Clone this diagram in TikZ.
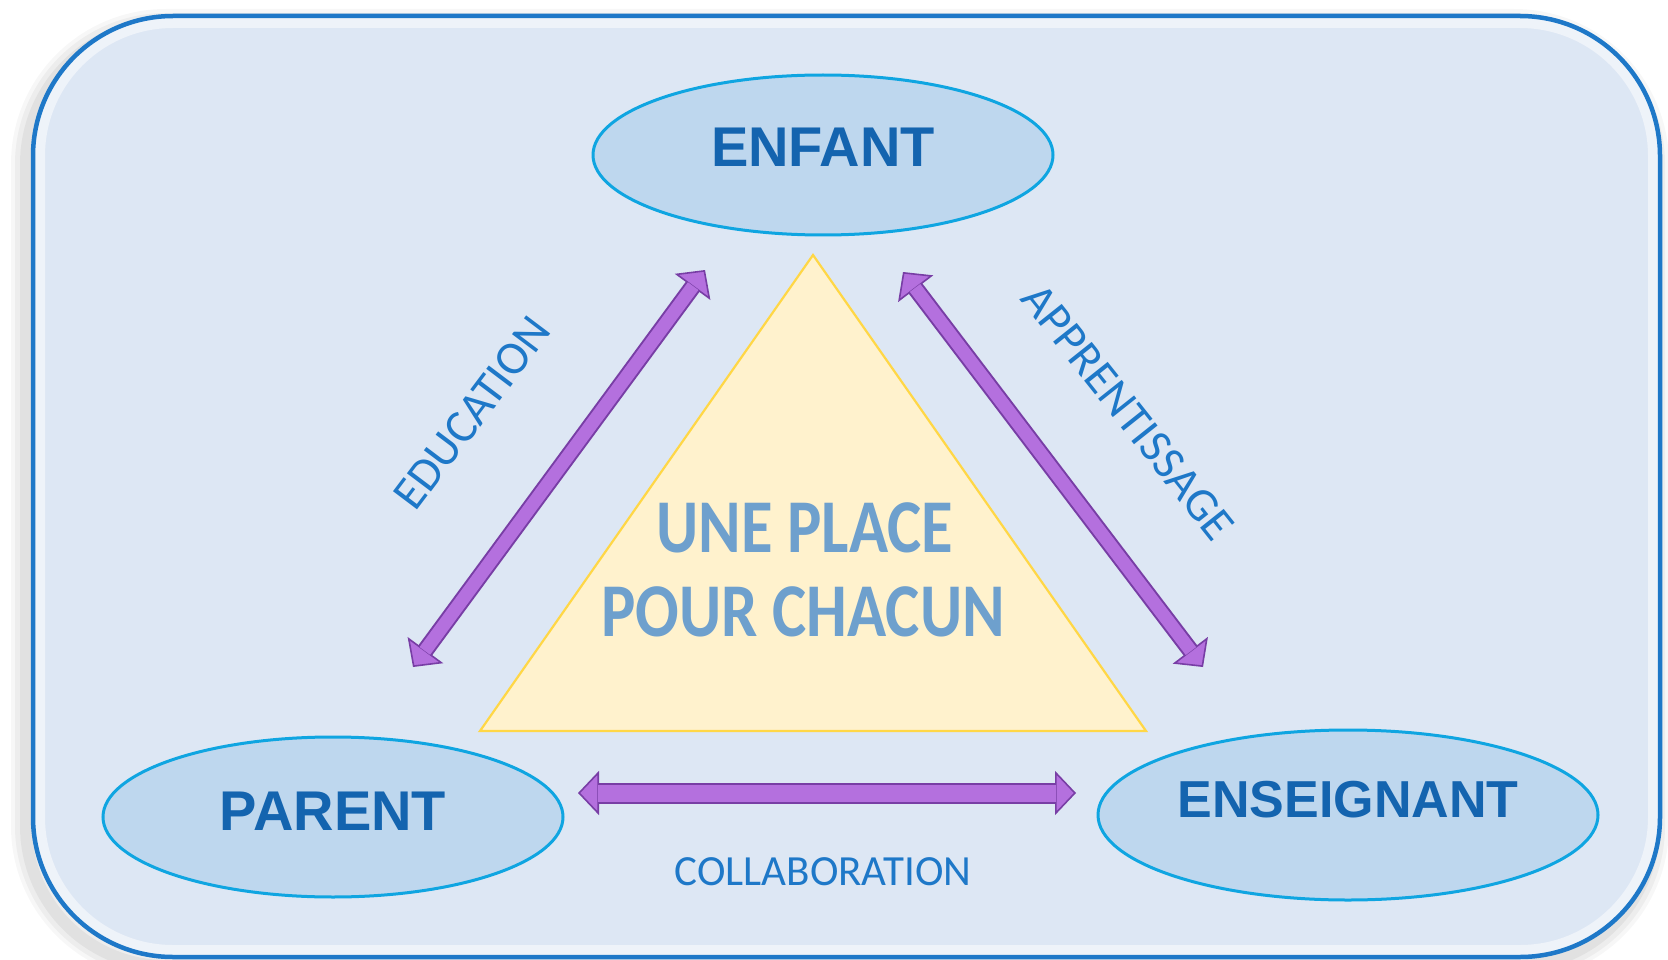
\documentclass[tikz,border=0pt]{standalone}
\usepackage{fontspec}
\setmainfont{Carlito}
\newfontfamily\headfont{Liberation Sans}
\newfontfamily\placefont{Carlito}[FakeStretch=0.85]
\usetikzlibrary{shapes.geometric,arrows.meta}
\definecolor{bgblue}{RGB}{221,231,244}
\definecolor{borderblue}{RGB}{30,120,200}
\definecolor{ellfill}{RGB}{190,215,238}
\definecolor{elldraw}{RGB}{15,165,225}
\definecolor{trifill}{RGB}{255,242,205}
\definecolor{tridraw}{RGB}{255,215,70}
\definecolor{headtext}{RGB}{20,100,175}
\definecolor{labeltext}{RGB}{30,120,200}
\definecolor{placetext}{RGB}{110,160,205}
\definecolor{arrlight}{RGB}{180,112,222}
\definecolor{arrdark}{RGB}{120,62,165}
\tikzset{
  ellnode/.style={ellipse, draw=elldraw, line width=3pt, fill=ellfill, inner sep=0pt,
    text=headtext, font=\headfont\bfseries\fontsize{56}{60}\selectfont},
  sidelabel/.style={text=labeltext, inner sep=0pt, font=\fontsize{47}{50}\selectfont},
  placelabel/.style={text=placetext, inner sep=0pt, font=\placefont\bfseries\fontsize{76}{80}\selectfont},
  blockarrow/.style={line width=#1, draw=arrdark,
    {Triangle[width=44pt,length=21pt,fill=arrlight,line width=1.6pt]}-{Triangle[width=44pt,length=21pt,fill=arrlight,line width=1.6pt]}},
  blockfill/.style={line width=#1, draw=arrlight, shorten <=20pt, shorten >=20pt},
  framebox/.style={rounded corners=140pt},
}
\begin{document}
\begin{tikzpicture}[x=1pt,y=-1pt]
\useasboundingbox (0,0) rectangle (1668,960);
% frame shadow
\foreach \w/\o in {30/0.03, 22/0.04, 12/0.05}
  \draw[framebox, line width=\w pt, black, opacity=\o] (26,24) rectangle (1654,966);
\fill[framebox, bgblue] (33,16) rectangle (1660,957);
\begin{scope}
  \clip[framebox] (33,16) rectangle (1660,957);
  \draw[framebox, white, opacity=0.5, line width=24pt] (33,16) rectangle (1660,957);
\end{scope}
\draw[framebox, borderblue, line width=4.5pt] (33,16) rectangle (1660,957);

% triangle
\draw[fill=trifill, draw=tridraw, line width=2.2pt, line join=miter] (813,255) -- (1146,731) -- (480,731) -- cycle;
\node[placelabel] (line1) at (805,528) {UNE PLACE};
\node[placelabel] (line2) at (803,612) {POUR CHACUN};

% ellipses
\node[ellnode, minimum width=460pt, minimum height=160pt, text height=40pt, text depth=16pt] (enfant) at (823,155) {ENFANT};
\node[ellnode, minimum width=460pt, minimum height=160pt, text height=40pt, text depth=14pt] (parent) at (333,817) {PARENT};
\node[ellnode, minimum width=500pt, minimum height=170pt, text height=38pt, text depth=34pt,
      font=\headfont\bfseries\fontsize{52}{56}\selectfont] (enseignant) at (1348,815) {ENSEIGNANT};

% arrow end points
\coordinate (lt) at (705,270);
\coordinate (lb) at (413,667);
\coordinate (rt) at (903,272);
\coordinate (rb) at (1203,667);
\coordinate (bl) at (578,793);
\coordinate (br) at (1076,793);

\draw[blockarrow=17pt] (lb) -- (lt);
\draw[blockfill=13pt] (lb) -- (lt);
\draw[blockarrow=17pt] (rt) -- (rb);
\draw[blockfill=13pt] (rt) -- (rb);
\draw[blockarrow=21pt] (bl) -- (br);
\draw[blockfill=17pt] (bl) -- (br);

% labels
\node[sidelabel, rotate=53] (education) at (472,413) {EDUCATION};
\node[sidelabel, rotate=-51.5] (apprentissage) at (1128,412) {APPRENTISSAGE};
\node[sidelabel, font=\fontsize{43}{46}\selectfont] (collaboration) at (823,872) {COLLABORATION};
\end{tikzpicture}
\end{document}
